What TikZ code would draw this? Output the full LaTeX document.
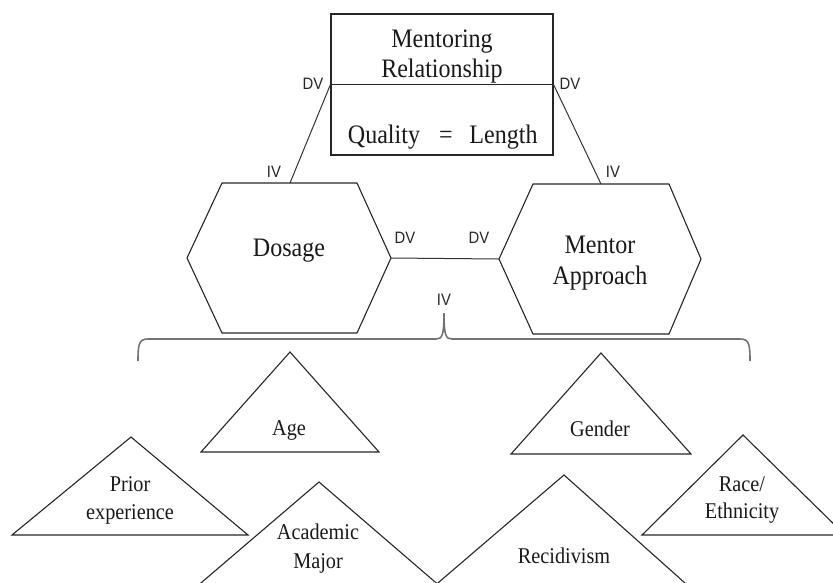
\documentclass[tikz,border=0pt]{standalone}
\usepackage{fontspec}
\newfontfamily\serifbody[FakeStretch=0.9]{Liberation Serif}
\newfontfamily\sanslabel[FakeStretch=0.9]{Liberation Sans}
\begin{document}
\begin{tikzpicture}[x=1pt,y=-1pt,
  shape line/.style={draw=black!85, line width=1.1pt, line join=miter},
  link/.style={draw=black!80, line width=1pt},
  brace line/.style={draw=black!55, line width=1.6pt},
  bigtext/.style={font=\serifbody\fontsize{26.7}{31}\selectfont, inner sep=0pt, anchor=base, text=black!90},
  smalltext/.style={font=\serifbody\fontsize{22.5}{29}\selectfont, inner sep=0pt, anchor=base, text=black!90},
  varlabel/.style={font=\sanslabel\fontsize{16.5}{18}\selectfont, inner sep=0pt, anchor=base, text=black!85},
]
\useasboundingbox (0,0) rectangle (833,582);

% Mentoring relationship box with its divider
\node[shape line, rectangle, minimum width=222pt, minimum height=141pt, inner sep=0pt] (rel) at (442,84.5) {};
\draw[shape line] (rel.west) -- (rel.east);
\node[bigtext] (rel-t1) at (442,47) {Mentoring};
\node[bigtext] (rel-t2) at (442,77) {Relationship};
\node[bigtext] (rel-q) at (384,143) {Quality};
\node[bigtext] (rel-eq) at (446,143) {=};
\node[bigtext] (rel-l) at (503.5,143) {Length};

% Dosage hexagon
\coordinate (dos-w) at (187,258);
\coordinate (dos-e) at (391,258);
\coordinate (dos-top) at (290,183);
\draw[shape line] (222,183) -- (357,183) -- (dos-e) -- (357,333) -- (222,333) -- (dos-w) -- cycle;
\node[bigtext] (dos-t) at (289,256) {Dosage};

% Mentor approach hexagon
\coordinate (ma-w) at (499,259);
\coordinate (ma-e) at (701,259);
\coordinate (ma-top) at (601,184);
\draw[shape line] (533,184) -- (669,184) -- (ma-e) -- (669,334) -- (533,334) -- (ma-w) -- cycle;
\node[bigtext] (ma-t1) at (600,253) {Mentor};
\node[bigtext] (ma-t2) at (600,284) {Approach};

% Connectors
\draw[link] (rel.west) -- (dos-top);
\draw[link] (rel.east) -- (ma-top);
\draw[link] (dos-e) -- (ma-w);

% Variable labels
\node[varlabel] (dv-rl) at (313,89) {DV};
\node[varlabel] (dv-rr) at (570,89) {DV};
\node[varlabel] (iv-d) at (274,177) {IV};
\node[varlabel] (iv-m) at (613,177) {IV};
\node[varlabel] (dv-d) at (405,243) {DV};
\node[varlabel] (dv-m) at (479,243) {DV};
\node[varlabel] (iv-b) at (444,305) {IV};

% Brace grouping the background variables
\coordinate (br-l) at (138,361);
\coordinate (br-tip) at (444,313);
\coordinate (br-r) at (750,361);
\draw[brace line] (br-l) .. controls (138,344) and (139,339) .. (148,339) -- (436,339)
  .. controls (442,339) and (444,336) .. (br-tip)
  .. controls (444,336) and (446,339) .. (452,339) -- (740,339)
  .. controls (749,339) and (750,344) .. (br-r);

% Background variable triangles
\begin{scope}
\clip (0,0) rectangle (833,582);
\draw[shape line] (12,535) -- (131,437) -- (248,535) -- cycle;
\draw[shape line] (201,452) -- (290,352) -- (379,452) -- cycle;
\draw[shape line] (181,600) -- (319,482) -- (456,600) -- cycle;
\draw[shape line] (511,454) -- (601,353) -- (691,454) -- cycle;
\draw[shape line] (418,600) -- (564,475) -- (704,600) -- cycle;
\draw[shape line] (642,535) -- (743,435) -- (845,535) -- cycle;
\end{scope}

\node[smalltext] (pr-1) at (130,491) {Prior};
\node[smalltext] (pr-2) at (130,519) {experience};
\node[smalltext] (age) at (289,435) {Age};
\node[smalltext] (am-1) at (318,539) {Academic};
\node[smalltext] (am-2) at (318,568) {Major};
\node[smalltext] (gen) at (600,436) {Gender};
\node[smalltext] (rec) at (564,563) {Recidivism};
\node[smalltext] (re-1) at (742,491) {Race/};
\node[smalltext] (re-2) at (742,518) {Ethnicity};
\end{tikzpicture}
\end{document}
